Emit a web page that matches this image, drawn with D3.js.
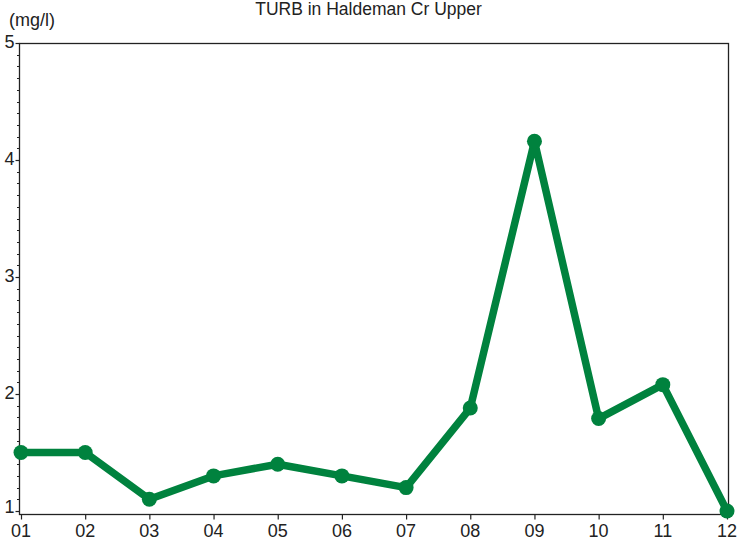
<!DOCTYPE html>
<html><head><meta charset="utf-8">
<script src="https://cdn.jsdelivr.net/npm/d3@7"></script>
<style>body{margin:0;background:#fff}svg{display:block}text{font-family:"Liberation Sans",Arial,sans-serif;fill:#222}</style>
</head><body><svg id="c" width="740" height="540"></svg>
<script>
const months = ["01","02","03","04","05","06","07","08","09","10","11","12"];
const values = [1.5,1.5,1.1,1.3,1.4,1.3,1.2,1.88,4.16,1.79,2.08,1.0];
const yTicks = [1,2,3,4,5];
const title = "TURB in Haldeman Cr Upper";
const unit = "(mg/l)";

const svg = d3.select("#c");
const x = d3.scalePoint().domain(months).range([21,727]);
const y = d3.scaleLinear().domain([1,5]).range([511,43]);
const frame = {l:19.5,r:728.5,t:43.5,b:514.5};

svg.append("text").attr("x",368.5).attr("y",15).attr("text-anchor","middle").style("font-size","17.5px").text(title);
svg.append("text").attr("x",9).attr("y",26).style("font-size","18px").text(unit);

svg.append("rect").attr("x",frame.l).attr("y",frame.t).attr("width",frame.r-frame.l).attr("height",frame.b-frame.t)
  .attr("fill","none").attr("stroke","#222").attr("stroke-width",1.3);

const minor = d3.range(1.0,5.0001,0.1);
svg.append("g").selectAll("line").data(minor).join("line")
  .attr("x1",frame.l-2.5).attr("x2",frame.l).attr("y1",d=>Math.round(y(d))+0.5).attr("y2",d=>Math.round(y(d))+0.5)
  .attr("stroke","#222").attr("stroke-width",1);
const ya = svg.append("g");
ya.selectAll("line").data(yTicks).join("line")
  .attr("x1",frame.l-4).attr("x2",frame.l).attr("y1",d=>Math.round(y(d))+0.5).attr("y2",d=>Math.round(y(d))+0.5)
  .attr("stroke","#222").attr("stroke-width",1.2);
ya.selectAll("text").data(yTicks).join("text")
  .attr("x",14.5).attr("y",d=>Math.min(y(d)+5,513)).attr("text-anchor","end").style("font-size","18px").text(d=>d);

const xa = svg.append("g");
xa.selectAll("line").data(months).join("line")
  .attr("x1",d=>x(d)+0.5).attr("x2",d=>x(d)+0.5).attr("y1",frame.b).attr("y2",frame.b+5)
  .attr("stroke","#222").attr("stroke-width",1.2);
xa.selectAll("text").data(months).join("text")
  .attr("x",d=>x(d)).attr("y",537).attr("text-anchor","middle").style("font-size","18px").text(d=>d);

const color = "#00823E";
const pts = months.map((m,i)=>[x(m),y(values[i])]);
svg.append("path").attr("d",d3.line()(pts)).attr("fill","none").attr("stroke",color)
  .attr("stroke-width",7.5).attr("stroke-linejoin","round");
svg.append("g").selectAll("circle").data(pts).join("circle")
  .attr("cx",d=>d[0]).attr("cy",d=>d[1]).attr("r",7.5).attr("fill",color);
</script></body></html>
